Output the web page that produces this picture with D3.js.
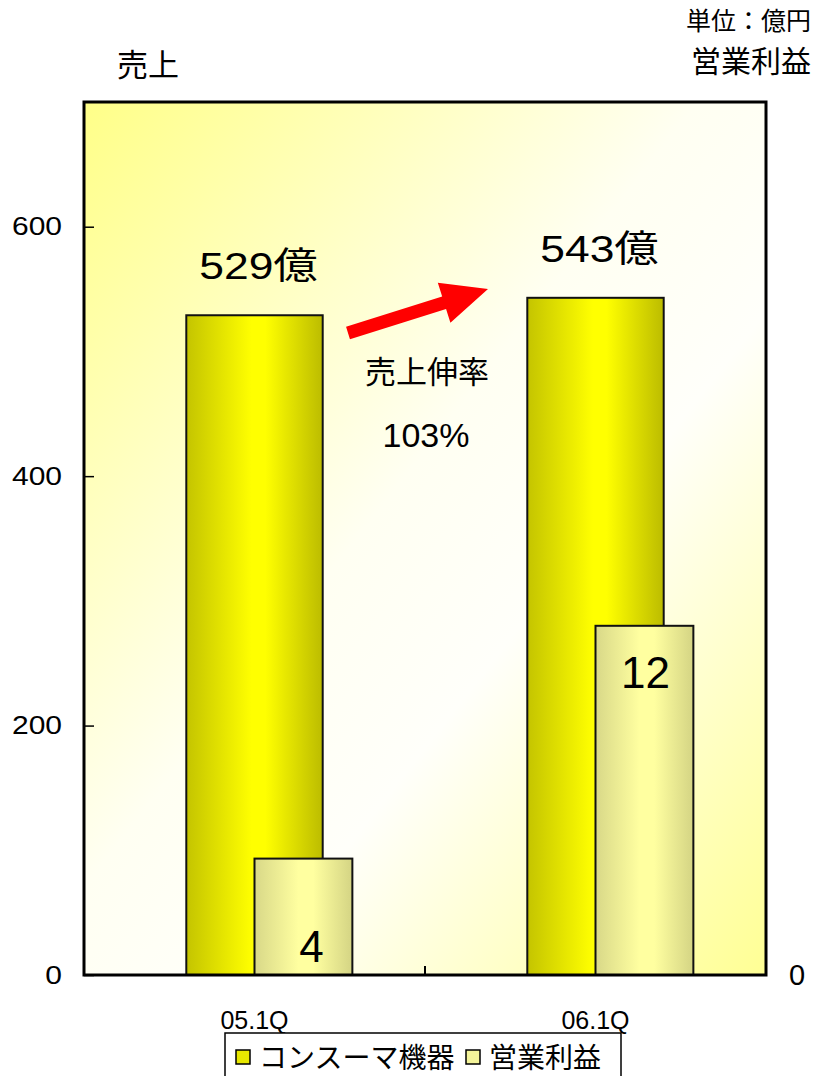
<!DOCTYPE html>
<html>
<head>
<meta charset="utf-8">
<script src="https://cdn.jsdelivr.net/npm/d3@7"></script>
<style>
  html, body { margin: 0; padding: 0; background: #fff; }
  svg { display: block; font-family: "Liberation Sans", Arial, "Noto Sans CJK JP", sans-serif; }
</style>
</head>
<body>
<svg id="chart" width="814" height="1076"></svg>
<script>
// Quarterly figures (億円)
const categories = ["05.1Q", "06.1Q"];
const salesValues = [529, 543];
const profitValues = [4, 12];
const salesTicks = [0, 200, 400, 600];
const profitTicks = [0];
const seriesNames = ["コンスーマ機器", "営業利益"];
const growthLabel = "売上伸率";
const growthValue = "103%";

const svg = d3.select("#chart");
const plot = { left: 84, right: 766, top: 102, bottom: 975 };
const jp = '"Noto Sans CJK JP", "Liberation Sans", sans-serif';

const x = d3.scaleBand().domain(categories).range([plot.left, plot.right]);
const ySales = d3.scaleLinear().domain([0, 700]).range([plot.bottom, plot.top]);
const yProfit = d3.scaleLinear().domain([0, 30]).range([plot.bottom, plot.top]);

const defs = svg.append("defs");

// Plot background: yellow in two opposite corners, pale in between
const bg = defs.append("linearGradient").attr("id", "bgGrad")
  .attr("x1", 0).attr("y1", 0).attr("x2", 1).attr("y2", 1);
bg.append("stop").attr("offset", "0%").attr("stop-color", "#ffff88");
bg.append("stop").attr("offset", "45%").attr("stop-color", "#fffff2");
bg.append("stop").attr("offset", "62%").attr("stop-color", "#fffffa");
bg.append("stop").attr("offset", "100%").attr("stop-color", "#ffff94");

// Cylindrical shading for the sales bars
const sg = defs.append("linearGradient").attr("id", "salesGrad")
  .attr("x1", 0).attr("y1", 0).attr("x2", 1).attr("y2", 0);
sg.append("stop").attr("offset", "0%").attr("stop-color", "#c4c400");
sg.append("stop").attr("offset", "48%").attr("stop-color", "#ffff00");
sg.append("stop").attr("offset", "58%").attr("stop-color", "#ffff00");
sg.append("stop").attr("offset", "100%").attr("stop-color", "#bcbc00");

// Cylindrical shading for the profit bars
const pg = defs.append("linearGradient").attr("id", "profitGrad")
  .attr("x1", 0).attr("y1", 0).attr("x2", 1).attr("y2", 0);
pg.append("stop").attr("offset", "0%").attr("stop-color", "#d8d888");
pg.append("stop").attr("offset", "45%").attr("stop-color", "#ffffa0");
pg.append("stop").attr("offset", "60%").attr("stop-color", "#ffffa0");
pg.append("stop").attr("offset", "100%").attr("stop-color", "#d4d484");

// Plot area
svg.append("rect")
  .attr("x", plot.left).attr("y", plot.top)
  .attr("width", plot.right - plot.left).attr("height", plot.bottom - plot.top)
  .attr("fill", "url(#bgGrad)");

// Sales bars
const salesW = x.bandwidth() * 0.4;
svg.append("g").selectAll("rect").data(salesValues).join("rect")
  .attr("x", (d, i) => x(categories[i]) + x.bandwidth() / 2 - salesW / 2)
  .attr("y", d => ySales(d))
  .attr("width", salesW)
  .attr("height", d => ySales(0) - ySales(d))
  .attr("fill", "url(#salesGrad)")
  .attr("stroke", "#111").attr("stroke-width", 2);

// Profit bars
const profitW = x.bandwidth() * 0.287;
svg.append("g").selectAll("rect").data(profitValues).join("rect")
  .attr("x", (d, i) => x(categories[i]) + x.bandwidth() / 2)
  .attr("y", d => yProfit(d))
  .attr("width", profitW)
  .attr("height", d => yProfit(0) - yProfit(d))
  .attr("fill", "url(#profitGrad)")
  .attr("stroke", "#111").attr("stroke-width", 2);

// Plot frame
svg.append("rect")
  .attr("x", plot.left).attr("y", plot.top)
  .attr("width", plot.right - plot.left).attr("height", plot.bottom - plot.top)
  .attr("fill", "none").attr("stroke", "#000").attr("stroke-width", 3);

// Left (sales) axis with inward ticks; wide numerals
const numStretch = 1.2;
const leftAxis = svg.append("g")
  .attr("transform", `translate(${plot.left},0)`)
  .call(d3.axisLeft(ySales).tickValues(salesTicks).tickSize(-10).tickPadding(22).tickFormat(d3.format("d")));
leftAxis.select(".domain").remove();
leftAxis.selectAll(".tick line").attr("stroke", "#000").attr("stroke-width", 1.5);
leftAxis.selectAll(".tick text")
  .attr("font-size", 25).attr("fill", "#000")
  .attr("font-family", '"Liberation Sans", Arial, sans-serif')
  .attr("x", -22 / numStretch)
  .attr("transform", `scale(${numStretch},1)`);

// Right (profit) axis
const rightAxis = svg.append("g")
  .attr("transform", `translate(${plot.right},0)`)
  .call(d3.axisRight(yProfit).tickValues(profitTicks).tickSize(0).tickPadding(23).tickFormat(d3.format("d")));
rightAxis.select(".domain").remove();
rightAxis.selectAll(".tick text").attr("font-size", 29).attr("fill", "#000");

// Category axis
const bottomAxis = svg.append("g")
  .attr("transform", `translate(0,${plot.bottom})`)
  .call(d3.axisBottom(x).tickSize(0).tickPadding(36));
bottomAxis.select(".domain").remove();
bottomAxis.selectAll(".tick text").attr("font-size", 25).attr("fill", "#000");
// divider tick between categories
svg.append("line")
  .attr("x1", x(categories[1])).attr("x2", x(categories[1]))
  .attr("y1", plot.bottom).attr("y2", plot.bottom - 9)
  .attr("stroke", "#000").attr("stroke-width", 2);

// Sales value labels
svg.append("g").selectAll("text").data(salesValues).join("text")
  .attr("transform", (d, i) =>
    `translate(${x(categories[i]) + x.bandwidth() / 2 + 4},${ySales(d) - 36}) scale(${numStretch},1)`)
  .attr("text-anchor", "middle")
  .attr("font-size", 37)
  .attr("font-family", '"Liberation Sans", Arial, "Noto Sans CJK JP", sans-serif')
  .text(d => d + "億");

// Profit value labels inside bars
svg.append("g").selectAll("text").data(profitValues).join("text")
  .attr("x", (d, i) => x(categories[i]) + x.bandwidth() / 2 + profitW / 2 + (i === 0 ? 8 : 1))
  .attr("y", (d, i) => i === 0 ? plot.bottom - 13 : yProfit(d) + 62)
  .attr("text-anchor", "middle")
  .attr("font-size", 44)
  .text(d => d);

// Growth arrow
const ax0 = 348, ay0 = 333, ax1 = 488, ay1 = 289;
const ang = Math.atan2(ay1 - ay0, ax1 - ax0);
const len = Math.hypot(ax1 - ax0, ay1 - ay0);
const headL = 46, headW = 21, shaftW = 6.5;
const arrowPts = [
  [0, -shaftW], [len - headL, -shaftW], [len - headL, -headW],
  [len, 0], [len - headL, headW], [len - headL, shaftW], [0, shaftW]
];
svg.append("polygon")
  .attr("points", arrowPts.map(p => p.join(",")).join(" "))
  .attr("transform", `translate(${ax0},${ay0}) rotate(${ang * 180 / Math.PI})`)
  .attr("fill", "#ff0000");

svg.append("text").attr("x", 427).attr("y", 383).attr("text-anchor", "middle")
  .attr("font-size", 31).attr("font-family", jp).text(growthLabel);
svg.append("text").attr("x", 426).attr("y", 447).attr("text-anchor", "middle")
  .attr("font-size", 34).text(growthValue);

// Axis titles and unit
svg.append("text").attr("x", 117).attr("y", 76).attr("font-size", 31)
  .attr("font-family", jp).text("売上");
svg.append("text").attr("x", 811).attr("y", 30).attr("text-anchor", "end")
  .attr("font-size", 25).attr("font-family", jp).text("単位：億円");
svg.append("text").attr("x", 811).attr("y", 72).attr("text-anchor", "end")
  .attr("font-size", 30).attr("font-family", jp).text("営業利益");

// Legend
const legend = svg.append("g");
legend.append("rect").attr("x", 225).attr("y", 1033).attr("width", 396).attr("height", 60)
  .attr("fill", "#fff").attr("stroke", "#000").attr("stroke-width", 1.5);
const swatchFill = ["#e8e800", "#f4f49a"];
const legendX = [236, 466];
seriesNames.forEach((name, i) => {
  legend.append("rect").attr("x", legendX[i]).attr("y", 1050).attr("width", 14).attr("height", 14)
    .attr("fill", swatchFill[i]).attr("stroke", "#000").attr("stroke-width", 1.5);
  legend.append("text").attr("x", legendX[i] + 23).attr("y", 1068)
    .attr("font-size", 28).attr("font-family", jp).text(name);
});
</script>
</body>
</html>
